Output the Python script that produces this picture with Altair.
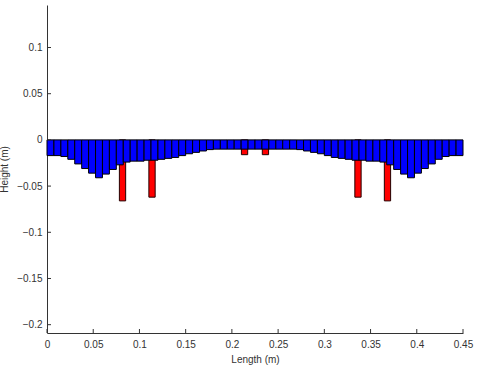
import altair as alt
import pandas as pd

# Blue bars: centre positions (m) and heights (m)
blue_x = [0.00375, 0.01125, 0.01875, 0.02625, 0.03375, 0.04125, 0.04875, 0.05625, 0.06375, 0.07125,
          0.07875, 0.08625, 0.09375, 0.10125, 0.10875, 0.11625, 0.12375, 0.13125, 0.13875, 0.14625,
          0.15375, 0.16125, 0.16875, 0.17625, 0.18375, 0.19125, 0.19875, 0.20625, 0.21375, 0.22125,
          0.22875, 0.23625, 0.24375, 0.25125, 0.25875, 0.26625, 0.27375, 0.28125, 0.28875, 0.29625,
          0.30375, 0.31125, 0.31875, 0.32625, 0.33375, 0.34125, 0.34875, 0.35625, 0.36375, 0.37125,
          0.37875, 0.38625, 0.39375, 0.40125, 0.40875, 0.41625, 0.42375, 0.43125, 0.43875, 0.44625]
blue_h = [-0.017, -0.017, -0.018, -0.021, -0.026, -0.031, -0.036, -0.041, -0.037, -0.032,
          -0.027, -0.024, -0.023, -0.023, -0.022, -0.022, -0.021, -0.020, -0.019, -0.017,
          -0.015, -0.0135, -0.012, -0.0105, -0.010, -0.010, -0.010, -0.010, -0.010, -0.010,
          -0.010, -0.010, -0.010, -0.010, -0.010, -0.010, -0.0105, -0.012, -0.0135, -0.015,
          -0.017, -0.019, -0.020, -0.021, -0.022, -0.022, -0.023, -0.023, -0.024, -0.027,
          -0.032, -0.037, -0.041, -0.036, -0.031, -0.026, -0.021, -0.018, -0.017, -0.017]

# Red bars
red_x = [0.0817, 0.1136, 0.2137, 0.2363, 0.3364, 0.3683]
red_h = [-0.066, -0.062, -0.016, -0.016, -0.062, -0.066]

x_ticks = [0, 0.05, 0.1, 0.15, 0.2, 0.25, 0.3, 0.35, 0.4, 0.45]
y_ticks = [-0.2, -0.15, -0.1, -0.05, 0, 0.05, 0.1]

W, H = 416, 328
FONT = "Liberation Sans"

blue_df = pd.DataFrame({"x": blue_x, "h": blue_h})
red_df = pd.DataFrame({"x": red_x, "h": red_h})

xscale = alt.Scale(domain=[0, 0.45], nice=False, zero=False)
yscale = alt.Scale(domain=[-0.209, 0.146], nice=False, zero=False)

xaxis = alt.Axis(values=x_ticks, format=".2~f", title="Length (m)", grid=False,
                 ticks=False, labelPadding=6, titlePadding=5,
                 labelFont=FONT, titleFont=FONT, labelFontSize=10, titleFontSize=10,
                 titleFontWeight="normal", labelColor="#333", titleColor="#333",
                 domainColor="#333", domainWidth=1, labelFlush=False)
yaxis = alt.Axis(values=y_ticks, format=".2~f", title="Height (m)", grid=False,
                 ticks=False, labelPadding=5,
                 titleX=-38, titleY=H / 2, titleAngle=-90, titleBaseline="bottom",
                 titleAlign="center",
                 labelFont=FONT, titleFont=FONT, labelFontSize=10, titleFontSize=10,
                 titleFontWeight="normal", labelColor="#333", titleColor="#333",
                 domainColor="#333", domainWidth=1, labelFlush=False)

red = alt.Chart(red_df).transform_calculate(
    x0="datum.x - 0.0034", x1="datum.x + 0.0034", z="0"
).mark_bar(color="#ff0000", stroke="#220000", strokeWidth=1).encode(
    x=alt.X("x0:Q", scale=xscale, axis=xaxis),
    x2="x1:Q",
    y=alt.Y("h:Q", scale=yscale, axis=yaxis),
    y2="z:Q",
)

blue = alt.Chart(blue_df).transform_calculate(
    x0="datum.x - 0.00375", x1="datum.x + 0.00375", z="0"
).mark_bar(color="#0000ff", stroke="#000000", strokeWidth=1).encode(
    x=alt.X("x0:Q", scale=xscale),
    x2="x1:Q",
    y=alt.Y("h:Q", scale=yscale),
    y2="z:Q",
)

ytick_df = pd.DataFrame({"v": y_ticks})
xtick_df = pd.DataFrame({"v": x_ticks})

yticks = alt.Chart(ytick_df).mark_rule(color="#333", strokeWidth=1).encode(
    y=alt.Y("v:Q", scale=yscale),
    x=alt.value(0), x2=alt.value(4),
)
xticks = alt.Chart(xtick_df).mark_rule(color="#333", strokeWidth=1).encode(
    x=alt.X("v:Q", scale=xscale),
    y=alt.value(H), y2=alt.value(H - 4),
)

chart = alt.layer(red, blue, yticks, xticks).properties(
    width=W, height=H,
    autosize=alt.AutoSizeParams(type="none"),
    padding={"left": 47, "top": 5, "right": 17, "bottom": 36},
    background="white",
).configure_view(stroke=None)

chart.save("out.html", embed_options={"renderer": "svg", "actions": False})
